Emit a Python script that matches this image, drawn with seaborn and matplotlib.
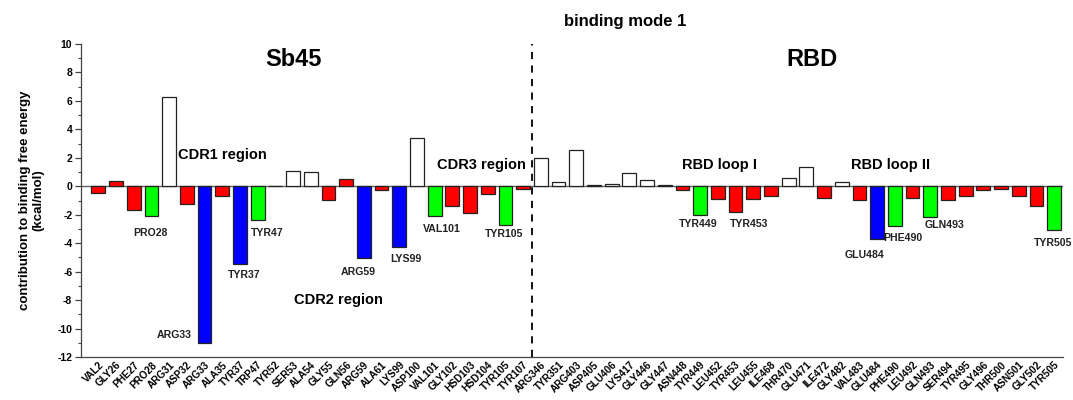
import matplotlib
matplotlib.use("Agg")
import matplotlib.pyplot as plt
import numpy as np
import pandas as pd
import seaborn as sns
from matplotlib.ticker import MultipleLocator

# Per-residue contribution to binding free energy (kcal/mol)
nb_residues = ["VAL2", "GLY26", "PHE27", "PRO28", "ARG31", "ASP32", "ARG33", "ALA35",
               "TYR37", "TRP47", "TYR52", "SER53", "ALA54", "GLY55", "GLN56", "ARG59",
               "ALA61", "LYS99", "ASP100", "VAL101", "GLY102", "HSD103", "HSD104",
               "TYR105", "TYR107"]
nb_energy = [-0.47, 0.35, -1.64, -2.11, 6.25, -1.22, -11.0, -0.70,
             -5.43, -2.34, 0.0, 1.05, 1.00, -0.94, 0.54, -5.03,
             -0.28, -4.26, 3.40, -2.06, -1.40, -1.87, -0.56,
             -2.74, -0.19]
nb_group = ["minor", "minor", "minor", "key", "unfav", "minor", "hot", "minor",
            "hot", "key", "unfav", "unfav", "unfav", "minor", "minor", "hot",
            "minor", "hot", "unfav", "key", "minor", "minor", "minor",
            "key", "minor"]

rbd_residues = ["ARG346", "TYR351", "ARG403", "ASP405", "GLU406", "LYS417", "GLY446",
                "GLY447", "ASN448", "TYR449", "LEU452", "TYR453", "LEU455", "ILE468",
                "THR470", "GLU471", "ILE472", "GLY482", "VAL483", "GLU484", "PHE490",
                "LEU492", "GLN493", "SER494", "TYR495", "GLY496", "THR500", "ASN501",
                "GLY502", "TYR505"]
rbd_energy = [1.97, 0.30, 2.53, 0.07, 0.19, 0.96, 0.47,
              0.10, -0.28, -2.04, -0.89, -1.83, -0.89, -0.66,
              0.56, 1.37, -0.84, 0.33, -0.94, -3.68, -2.81,
              -0.82, -2.18, -0.94, -0.70, -0.23, -0.19, -0.66,
              -1.40, -3.04]
rbd_group = ["unfav", "unfav", "unfav", "unfav", "unfav", "unfav", "unfav",
             "minor", "minor", "key", "minor", "minor", "minor", "minor",
             "unfav", "unfav", "minor", "unfav", "minor", "hot", "key",
             "minor", "key", "minor", "minor", "minor", "minor", "minor",
             "minor", "key"]

group_colors = {"unfav": "#FFFFFF", "minor": "#FF0000", "key": "#00FF00", "hot": "#0000FF"}

residues = nb_residues + rbd_residues
df = pd.DataFrame({
    "residue": residues,
    "energy": nb_energy + rbd_energy,
    "group": nb_group + rbd_group,
})

# Labelled residues: (text, x, y) with text left edge / vertical centre in data units
annotations = [
    ("PRO28", 1.95, -3.25), ("ARG33", 3.3, -10.48), ("TYR37", 7.32, -6.27),
    ("TYR47", 8.62, -3.25), ("ARG59", 13.71, -6.06), ("LYS99", 16.47, -5.08),
    ("VAL101", 18.34, -2.97), ("TYR105", 21.84, -3.32), ("TYR449", 32.8, -2.62),
    ("TYR453", 35.68, -2.62), ("GLU484", 42.18, -4.8), ("PHE490", 44.33, -3.67),
    ("GLN493", 46.7, -2.69), ("TYR505", 52.85, -4.02),
]
regions = [
    ("CDR1 region", 4.5, 2.23), ("CDR2 region", 11.05, -7.96),
    ("CDR3 region", 19.13, 1.52), ("RBD loop I", 32.97, 1.52),
    ("RBD loop II", 42.52, 1.52),
]

sns.set_style("ticks")
plt.rcParams["font.family"] = ["Liberation Sans", "DejaVu Sans"]
plt.rcParams["font.weight"] = "bold"
plt.rcParams["text.color"] = "black"
plt.rcParams["axes.labelcolor"] = "black"
plt.rcParams["xtick.color"] = "black"
plt.rcParams["ytick.color"] = "black"
plt.rcParams["axes.unicode_minus"] = False

fig = plt.figure(figsize=(10.73, 4.0), dpi=100)
ax = fig.add_axes([0.0752, 0.1075, 0.9155, 0.7825])

ax.axhline(0, color="#606060", lw=1.0, zorder=0.5)

sns.barplot(data=df, x="residue", y="energy", hue="group", order=residues,
            palette=group_colors, dodge=False, width=0.78, saturation=1,
            edgecolor="#222222", linewidth=0.9, legend=False, ax=ax, zorder=2)

# Boundary between nanobody and RBD residues
split = len(nb_residues) - 0.5
ax.vlines(split, -12, 10, colors="black", linestyles=(0, (4, 3.5)), lw=1.3, zorder=3)

ax.set_xlim(-1, len(residues) - 0.5)
ax.set_ylim(-12, 10)
ax.yaxis.set_major_locator(MultipleLocator(2))
ax.yaxis.set_minor_locator(MultipleLocator(1))
ax.tick_params(axis="y", which="major", length=4, width=0.9, labelsize=7.5, pad=2, color="#444444")
ax.tick_params(axis="y", which="minor", length=2.5, width=0.8, color="#444444")
ax.tick_params(axis="x", length=0, pad=2)
for lbl in ax.get_yticklabels():
    lbl.set_fontweight("bold")

ax.set_xticks(range(len(residues)))
ax.set_xticklabels(residues, rotation=45, ha="right", rotation_mode="anchor",
                   fontsize=7.2, fontweight="bold")
ax.set_xlabel("")
ax.set_ylabel("contribution to binding free energy\n(kcal/mol)", fontsize=9.5,
              fontweight="bold", linespacing=1.1)
ax.yaxis.set_label_coords(-0.037, 0.5)

for side in ("top", "right"):
    ax.spines[side].set_visible(False)
for side in ("left", "bottom"):
    ax.spines[side].set_color("#444444")
    ax.spines[side].set_linewidth(0.9)

ax.text(11.0, 8.9, "Sb45", ha="center", va="center", fontsize=17, fontweight="bold")
ax.text(40.3, 8.9, "RBD", ha="center", va="center", fontsize=17, fontweight="bold")
ax.text(29.75, 11.57, "binding mode 1", ha="center", va="center", fontsize=12,
        fontweight="bold", clip_on=False)

for text, x, y in regions:
    ax.text(x, y, text, ha="left", va="center", fontsize=10.5, fontweight="bold", zorder=4)
for text, x, y in annotations:
    ax.text(x, y, text, ha="left", va="center", fontsize=7.6, fontweight="bold",
            color="#222222", zorder=4, clip_on=False)

fig.savefig("out.png", dpi=100, facecolor="white")
